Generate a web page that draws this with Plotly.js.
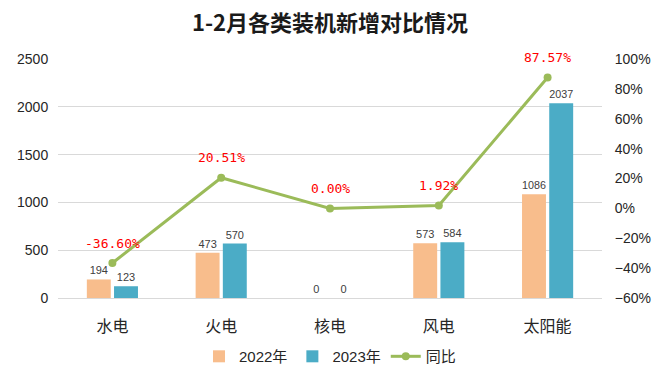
<!DOCTYPE html>
<html><head><meta charset="utf-8">
<script src="https://cdn.plot.ly/plotly-3.0.1.min.js"></script>
<style>html,body{margin:0;padding:0;background:#fff}#c{width:660px;height:385px}</style>
</head><body><div id="c"></div>
<script>
const categories = ['水电','火电','核电','风电','太阳能'];
const v2022 = [194, 473, 0, 573, 1086];
const v2023 = [123, 570, 0, 584, 2037];
const yoy = [-36.60, 20.51, 0.00, 1.92, 87.57];
const yoyLabels = yoy.map(v => v.toFixed(2) + '%');

const F = 'Liberation Sans, Arial, Noto Sans CJK SC, sans-serif';
const traces = [
  {type:'bar', name:'2022年', x:categories, y:v2022, marker:{color:'#F8BD8C'},
   text:v2022.map(String), textposition:'outside', cliponaxis:false,
   textfont:{size:11, color:'#404040', family:F}},
  {type:'bar', name:'2023年', x:categories, y:v2023, marker:{color:'#4BACC6'},
   text:v2023.map(String), textposition:'outside', cliponaxis:false,
   textfont:{size:11, color:'#404040', family:F}},
  {type:'scatter', mode:'lines+markers', name:'同比', x:categories, y:yoy, yaxis:'y2',
   line:{color:'#9BBB59', width:3}, marker:{color:'#9BBB59', size:8}, cliponaxis:false}
];
const annotations = categories.map((c, i) => ({
  x:c, y:yoy[i], xref:'x', yref:'y2', text:yoyLabels[i], showarrow:false,
  yshift:20, font:{size:13, color:'#FF0000', family:'DejaVu Sans Mono, monospace'}
}));
const layout = {
  width:660, height:385,
  margin:{l:58, r:58, t:59, b:87},
  paper_bgcolor:'#fff', plot_bgcolor:'#fff',
  font:{family:F, color:'#262626'},
  title:{text:'<b>1-2月各类装机新增对比情况</b>', x:0.5, xanchor:'center', y:0.94, yanchor:'middle',
         font:{size:22, family:'Noto Sans CJK SC, sans-serif', color:'#1a1a1a'}},
  barmode:'group', bargap:0.5, bargroupgap:0.12,
  annotations:annotations,
  xaxis:{tickfont:{size:16, family:'Noto Sans CJK SC, sans-serif', color:'#262626'}, showline:false,
         ticks:'outside', ticklen:14, tickcolor:'rgba(0,0,0,0)'},
  yaxis:{range:[0,2500], dtick:500, showgrid:true, gridcolor:'#D9D9D9', zeroline:true, zerolinecolor:'#D9D9D9',
         tickfont:{size:14, color:'#262626'}, ticks:'outside', ticklen:6, tickcolor:'rgba(0,0,0,0)', automargin:false},
  yaxis2:{overlaying:'y', side:'right', range:[-60,100], dtick:20, ticksuffix:'%', showgrid:false, zeroline:false,
          tickfont:{size:14, color:'#262626'}, ticks:'outside', ticklen:9, tickcolor:'rgba(0,0,0,0)', automargin:false},
  legend:{orientation:'h', x:0.5, xanchor:'center', y:-0.245, yanchor:'middle',
          font:{size:15, family:'Liberation Sans, Noto Sans CJK SC, sans-serif'}, traceorder:'normal'},
  showlegend:true
};
Plotly.newPlot('c', traces, layout, {displayModeBar:false, staticPlot:true});
</script></body></html>
